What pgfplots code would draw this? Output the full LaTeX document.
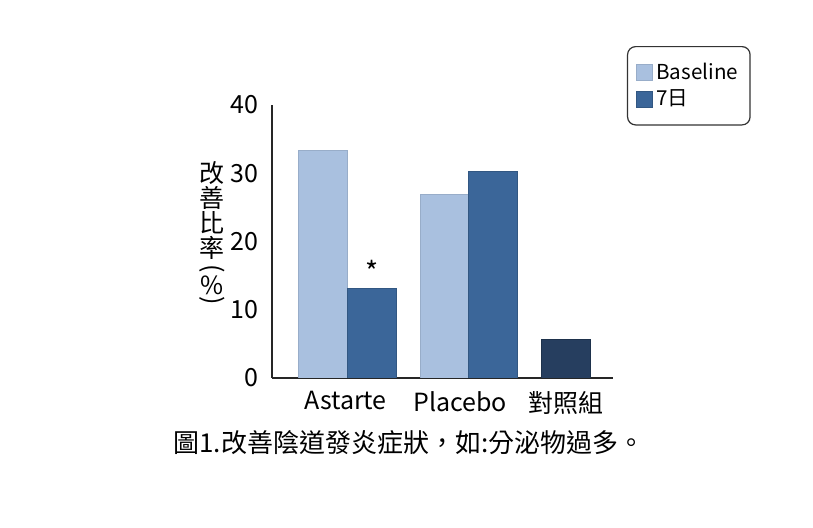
\documentclass[border=0pt]{standalone}
\usepackage{graphicx}
\usepackage{pgfplots}
\pgfplotsset{compat=1.18}
\usepackage{fontspec}
\setmainfont{Noto Sans CJK TC}

\definecolor{baseblue}{HTML}{A9C0DF}
\definecolor{dayblue}{HTML}{3B6699}
\definecolor{ctrlblue}{HTML}{263E5F}

% one character of the vertical y label, centred in a slot of given height
\newcommand\vslot[2]{\hbox to 14pt{\hss\vbox to #2{\vss\hbox{#1}\vss}\hss}}

\begin{document}
\begin{tikzpicture}
\useasboundingbox (0,0) rectangle (406.5pt,264pt);
\begin{axis}[
  at={(136pt,75pt)}, anchor=south west,
  scale only axis, width=170.5pt, height=136.5pt,
  xmin=0, xmax=341, ymin=0, ymax=40,
  axis lines=left,
  axis line style={-, line width=0.75pt, black!85},
  ybar, bar shift=0pt, bar width=48.5,
  ytick={0,10,20,30,40},
  xtick={73.5,188,294},
  xticklabels={Astarte,Placebo,對照組},
  tick style={draw=none},
  tick label style={font=\fontsize{12.5}{14}\selectfont},
  yticklabel style={xshift=-1pt},
  xticklabel style={yshift=1pt},
  /pgf/number format/assume math mode=true,
  every axis y label/.style={at={(axis description cs:-0.176,0.528)}, anchor=center,
    inner sep=0pt, font=\fontsize{12.5}{12.4}\selectfont},
  ylabel={\vbox{\offinterlineskip
    \vslot{改}{12.4pt}\vslot{善}{12.4pt}\vslot{比}{12.4pt}\vslot{率}{12.4pt}%
    \vslot{\rotatebox{-90}{(}}{8.1pt}\vslot{\%}{8.9pt}\vslot{\rotatebox{-90}{)}}{6.1pt}}},
  legend style={at={(axis description cs:1.041,1.216)}, anchor=north west,
    draw=black!80, rounded corners=4pt, line width=0.6pt,
    font=\fontsize{10.3}{12}\selectfont, inner xsep=4pt, inner ysep=6pt,
    row sep=0pt, cells={anchor=west}},
  legend image code/.code={\fill[#1, sharp corners] (0pt,-4pt) rectangle (8pt,4pt);},
]
\addplot[fill=baseblue, draw=baseblue!90!black, line width=0.4pt] coordinates {(51,33.4) (172.5,26.9)};
\addlegendentry{Baseline}
\addplot[fill=dayblue, draw=dayblue!85!black, line width=0.4pt] coordinates {(99.7,13.1) (221,30.2)};
\addlegendentry{7日}
\addplot[fill=ctrlblue, draw=ctrlblue!80!black, line width=0.4pt, forget plot] coordinates {(294,5.7)};
\node[above, font=\fontsize{14}{14}\selectfont, inner sep=0pt] at (axis cs:99.7,14.0) {*};
\end{axis}
\node[font=\fontsize{13}{15}\selectfont] at (204.5pt,42.5pt) {圖1.改善陰道發炎症狀，如:分泌物過多。};
\end{tikzpicture}
\end{document}
